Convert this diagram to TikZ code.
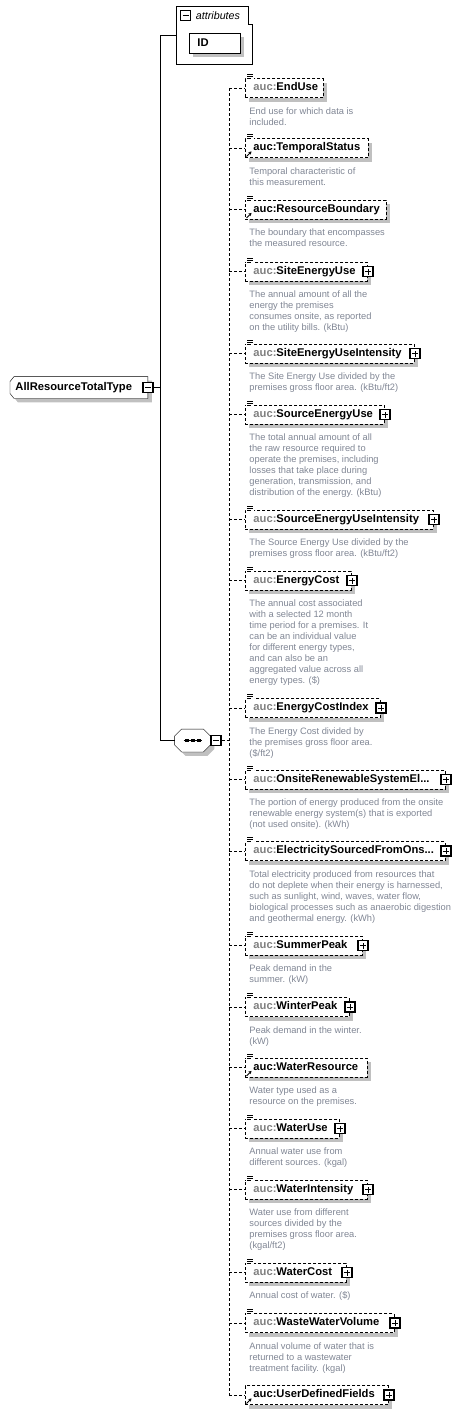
\documentclass[tikz,border=0pt]{standalone}
\usepackage{fontspec}
\setmainfont{Liberation Sans}
\usepackage{tikz}
\usetikzlibrary{positioning,arrows.meta,shadows,backgrounds}
\definecolor{pfxgray}{RGB}{128,128,128}
\definecolor{descgray}{RGB}{128,134,148}
\definecolor{shadowgray}{RGB}{192,192,192}
\newcommand{\auc}[1]{\mbox{\textcolor{pfxgray}{auc:}#1}}
\newcommand{\aucref}[1]{\mbox{auc:#1}}
\tikzset{
  >=Stealth,
  boxshadow/.style={drop shadow={shadow xshift=4pt, shadow yshift=-4pt, fill=shadowgray, opacity=1}},
  namefont/.style={font=\fontsize{11.2}{13}\selectfont\bfseries},
  elem/.style={draw, dash pattern=on 3pt off 2pt, fill=white, boxshadow, anchor=west,
    minimum height=19pt, text height=8pt, text depth=2.5pt, inner xsep=8pt, inner ysep=0pt,
    text width=#1, align=left, namefont},
  desc/.style={inner sep=0pt, align=left, text=descgray, font=\fontsize{9.3}{11}\selectfont},
  expand/.style={draw, fill=white, line width=1.2pt, minimum size=10pt, inner sep=0pt,
    path picture={\draw[line width=0.8pt]
      ([xshift=-3pt]path picture bounding box.center) -- ([xshift=3pt]path picture bounding box.center)
      ([yshift=-3pt]path picture bounding box.center) -- ([yshift=3pt]path picture bounding box.center);}},
  collapse/.style={draw, fill=white, line width=1.2pt, minimum size=10pt, inner sep=0pt,
    path picture={\draw[line width=0.8pt]
      ([xshift=-3pt]path picture bounding box.center) -- ([xshift=3pt]path picture bounding box.center);}},
  conn/.style={dash pattern=on 3pt off 2pt},
}

\begin{document}
\begin{tikzpicture}[x=1pt, y=1pt, line width=0.9pt]
\useasboundingbox (0,0) rectangle (460,-1414);

% attributes
\node[minimum width=76pt, minimum height=58pt, anchor=north west, inner sep=0pt] (attr) at (176,-6) {};
\draw (attr.north west) -| ([xshift=-4pt,yshift=-18pt]attr.north east) -| (attr.south east) -- (attr.south west) -- cycle;
\node[collapse, below right=4pt and 4pt of attr.north west] (attrx) {};
\node[right=1pt of attrx, font=\fontsize{10.7}{12}\selectfont\itshape] (attrlbl) {attributes};
\node[draw, fill=white, boxshadow, minimum height=20pt, text height=8pt, text depth=2.5pt,
  inner xsep=8pt, text width=35pt, align=left, namefont,
  below right=27pt and 13pt of attr.north west] (id) {ID};

% complex type
\node[anchor=west, minimum width=137pt, minimum height=21pt, text height=8pt, text depth=2.5pt,
  inner xsep=5pt, text width=127pt, align=left, namefont] (type) at (10,-387.5) {AllResourceTotalType};
\node[collapse] (typex) at (type.east) {};

% sequence
\node[minimum width=35pt, minimum height=22pt, inner sep=0pt] (seq) at (192.5,-740.5) {};
\node[collapse, right=0pt of seq] (seqx) {};
\draw[line width=0.8pt] ([xshift=-9pt]seq.center) -- ([xshift=9pt]seq.center);
\foreach \dx in {-8,-2,4}
  \fill ([xshift=\dx pt, yshift=-1.5pt]seq.center) rectangle ++(4pt,3pt);

\begin{scope}[on background layer]
\draw[fill=white, boxshadow] ([xshift=4pt]type.north west) -- (type.north east) -- (type.south east)
  -- ([xshift=4pt]type.south west) -- ([yshift=5pt]type.south west) -- ([yshift=-5pt]type.north west) -- cycle;
\draw[fill=white, boxshadow] ([xshift=7pt]seq.north west) -- ([xshift=-7pt]seq.north east)
  -- ([yshift=-7pt]seq.north east) -- ([yshift=7pt]seq.south east) -- ([xshift=-7pt]seq.south east)
  -- ([xshift=7pt]seq.south west) -- ([yshift=7pt]seq.south west) -- ([yshift=-7pt]seq.north west) -- cycle;
\end{scope}

% elements
\node[elem=62pt] (enduse) at (245,-88) {\auc{EndUse}};
\node[elem=107pt] (tempstat) at (245,-148) {\aucref{TemporalStatus}};
\node[elem=125pt] (resbound) at (245,-209.5) {\aucref{ResourceBoundary}};
\node[elem=106pt] (siteuse) at (245,-271.5) {\auc{SiteEnergyUse}};
\node[elem=153pt] (siteint) at (245,-353.5) {\auc{SiteEnergyUseIntensity}};
\node[elem=123pt] (srcuse) at (245,-414.5) {\auc{SourceEnergyUse}};
\node[elem=172pt] (srcint) at (245,-519.5) {\auc{SourceEnergyUseIntensity}};
\node[elem=90pt] (cost) at (245,-580.5) {\auc{EnergyCost}};
\node[elem=119pt] (costidx) at (245,-708) {\auc{EnergyCostIndex}};
\node[elem=184pt] (onsite) at (245,-779.5) {\auc{OnsiteRenewableSystemEl...}};
\node[elem=184pt] (elecsrc) at (245,-851) {\auc{ElectricitySourcedFromOns...}};
\node[elem=101pt] (summer) at (245,-945.5) {\auc{SummerPeak}};
\node[elem=88pt] (winter) at (245,-1007) {\auc{WinterPeak}};
\node[elem=106pt] (waterres) at (245,-1067.5) {\aucref{WaterResource}};
\node[elem=78pt] (wateruse) at (245,-1128.5) {\auc{WaterUse}};
\node[elem=106pt] (waterint) at (245,-1189.5) {\auc{WaterIntensity}};
\node[elem=85pt] (watercost) at (245,-1272.5) {\auc{WaterCost}};
\node[elem=133pt] (waste) at (245,-1323) {\auc{WasteWaterVolume}};
\node[elem=127pt] (udf) at (245,-1395) {\aucref{UserDefinedFields}};

% expand boxes
\foreach \n in {siteuse,siteint,srcuse,srcint,cost,costidx,onsite,elecsrc,summer,winter,
                wateruse,waterint,watercost,waste,udf}
  \node[expand] (\n-x) at (\n.east) {};

% documentation marks
\foreach \n in {enduse,tempstat,resbound,siteuse,siteint,srcuse,srcint,cost,costidx,onsite,
                elecsrc,summer,winter,waterres,wateruse,waterint,watercost,waste} {
  \fill[white] ([xshift=1pt,yshift=-2pt]\n.north west) rectangle ([xshift=9pt,yshift=4.5pt]\n.north west);
  \draw[line width=0.8pt] ([xshift=2pt,yshift=3.5pt]\n.north west) -- ++(6pt,0)
    ([xshift=2pt,yshift=1.5pt]\n.north west) -- ++(6pt,0)
    ([xshift=2pt,yshift=-0.5pt]\n.north west) -- ++(4pt,0);
}

% reference arrows
\foreach \n in {tempstat,resbound,waterres,udf}
  \draw[-{Stealth[length=3pt,width=3.5pt]}, line width=1pt] ([xshift=1.5pt,yshift=1.5pt]\n.south west) -- ++(5pt,5pt);

% descriptions
\node[desc, below right=8pt and 4pt of enduse.south west] (enduse-d) {\strut End use for which data is\\included.};
\node[desc, below right=8pt and 4pt of tempstat.south west] (tempstat-d) {\strut Temporal characteristic of\\this measurement.};
\node[desc, below right=8pt and 4pt of resbound.south west] (resbound-d) {\strut The boundary that encompasses\\the measured resource.};
\node[desc, below right=8pt and 4pt of siteuse.south west] (siteuse-d) {\strut The annual amount of all the\\energy the premises\\consumes onsite, as reported\\on the utility bills. (kBtu)};
\node[desc, below right=8pt and 4pt of siteint.south west] (siteint-d) {\strut The Site Energy Use divided by the\\premises gross floor area. (kBtu/ft2)};
\node[desc, below right=8pt and 4pt of srcuse.south west] (srcuse-d) {\strut The total annual amount of all\\the raw resource required to\\operate the premises, including\\losses that take place during\\generation, transmission, and\\distribution of the energy. (kBtu)};
\node[desc, below right=8pt and 4pt of srcint.south west] (srcint-d) {\strut The Source Energy Use divided by the\\premises gross floor area. (kBtu/ft2)};
\node[desc, below right=8pt and 4pt of cost.south west] (cost-d) {\strut The annual cost associated\\with a selected 12 month\\time period for a premises. It\\can be an individual value\\for different energy types,\\and can also be an\\aggregated value across all\\energy types. (\$)};
\node[desc, below right=8pt and 4pt of costidx.south west] (costidx-d) {\strut The Energy Cost divided by\\the premises gross floor area.\\(\$/ft2)};
\node[desc, below right=8pt and 4pt of onsite.south west] (onsite-d) {\strut The portion of energy produced from the onsite\\renewable energy system(s) that is exported\\(not used onsite). (kWh)};
\node[desc, below right=8pt and 4pt of elecsrc.south west] (elecsrc-d) {\strut Total electricity produced from resources that\\do not deplete when their energy is harnessed,\\such as sunlight, wind, waves, water flow,\\biological processes such as anaerobic digestion\\and geothermal energy. (kWh)};
\node[desc, below right=8pt and 4pt of summer.south west] (summer-d) {\strut Peak demand in the\\summer. (kW)};
\node[desc, below right=8pt and 4pt of winter.south west] (winter-d) {\strut Peak demand in the winter.\\(kW)};
\node[desc, below right=8pt and 4pt of waterres.south west] (waterres-d) {\strut Water type used as a\\resource on the premises.};
\node[desc, below right=8pt and 4pt of wateruse.south west] (wateruse-d) {\strut Annual water use from\\different sources. (kgal)};
\node[desc, below right=8pt and 4pt of waterint.south west] (waterint-d) {\strut Water use from different\\sources divided by the\\premises gross floor area.\\(kgal/ft2)};
\node[desc, below right=8pt and 4pt of watercost.south west] (watercost-d) {\strut Annual cost of water. (\$)};
\node[desc, below right=8pt and 4pt of waste.south west] (waste-d) {\strut Annual volume of water that is\\returned to a wastewater\\treatment facility. (kgal)};

% connectors
\coordinate (trunk) at (160,-387.5);
\coordinate (bus) at (229,-740.5);
\draw (typex.east) -- (trunk);
\draw (attr.west) -- (trunk |- attr.west) -- (trunk |- seq.west) -- (seq.west);
\draw[conn] (seqx.east) -- (bus);
\draw[conn] (bus |- enduse.west) -- (bus |- udf.west);
\foreach \n in {enduse,tempstat,resbound,siteuse,siteint,srcuse,srcint,cost,costidx,onsite,
                elecsrc,summer,winter,waterres,wateruse,waterint,watercost,waste,udf}
  \draw[conn] (bus |- \n.west) -- (\n.west);

\end{tikzpicture}
\end{document}
